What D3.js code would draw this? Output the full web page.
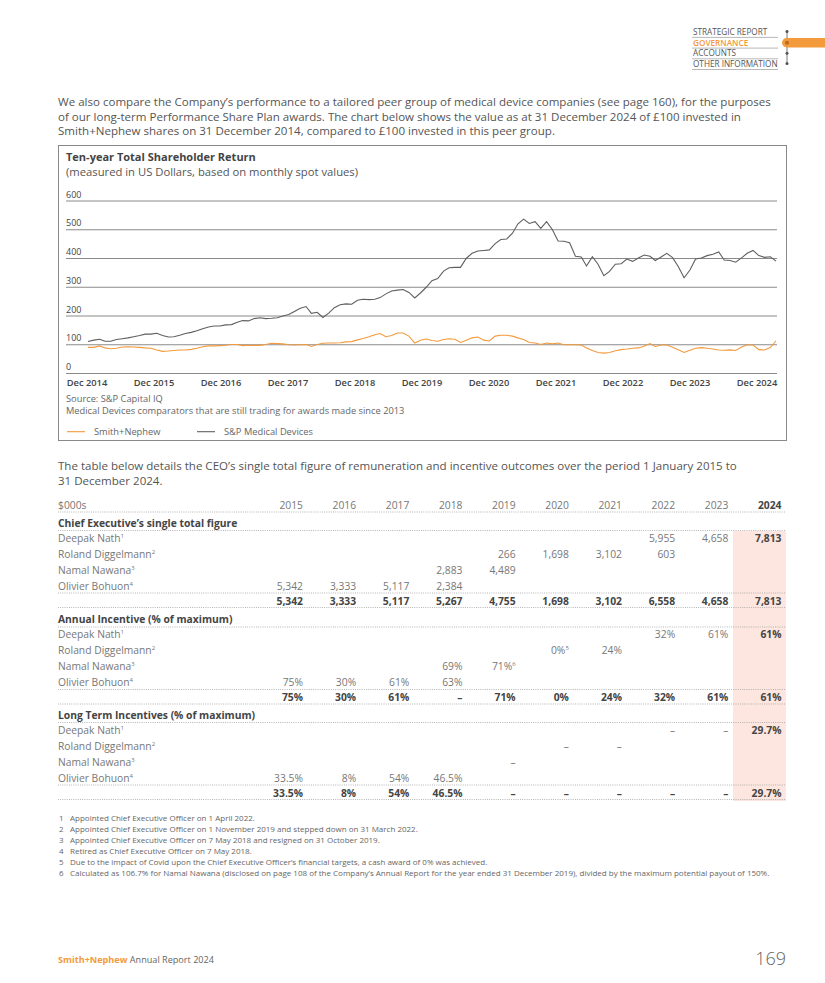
<!DOCTYPE html>
<html>
<head>
<meta charset="utf-8">
<script src="https://cdn.jsdelivr.net/npm/d3@7"></script>
<style>
  body { margin: 0; background: #fff; }
  svg text { font-family: "Open Sans", sans-serif; }
</style>
</head>
<body>
<script>
// ---- data ----
let navItems = ['STRATEGIC REPORT', 'GOVERNANCE', 'ACCOUNTS', 'OTHER INFORMATION'];

let xLabels = ['Dec 2014', 'Dec 2015', 'Dec 2016', 'Dec 2017', 'Dec 2018', 'Dec 2019',
               'Dec 2020', 'Dec 2021', 'Dec 2022', 'Dec 2023', 'Dec 2024'];
let yTicks = [0, 100, 200, 300, 400, 500, 600];

// monthly spot values, Dec 2014 .. Dec 2024
let smithNephew = [
  91, 91, 96, 89, 86, 88, 92, 93, 92, 91, 89, 88,
  82, 77, 78, 80, 82, 82, 84, 88, 93, 96, 96, 97,
  98, 101, 101, 97, 98, 98, 98, 101, 105, 104, 103, 100,
  99, 100, 101, 94, 101, 105, 106, 106, 107, 110, 111, 117,
  122, 128, 135, 139, 128, 132, 141, 141, 130, 106, 116, 120,
  115, 112, 118, 121, 119, 108, 116, 124, 127, 116, 113, 130,
  133, 133, 130, 124, 118, 108, 106, 101, 106, 103, 106, 100,
  100, 100, 99, 89, 80, 73, 71, 73, 79, 83, 85, 88,
  89, 95, 104, 94, 99, 99, 91, 83, 73, 81, 88, 90,
  88, 85, 82, 81, 82, 80, 92, 99, 99, 83, 82, 90,
  114
];
let spMedical = [
  111, 116, 119, 112, 112, 118, 121, 124, 128, 132, 137, 137,
  140, 132, 127, 128, 133, 139, 143, 149, 156, 162, 165, 165,
  169, 170, 178, 184, 183, 191, 194, 191, 192, 194, 200, 205,
  216, 227, 233, 209, 213, 195, 210, 229, 239, 242, 241, 255,
  258, 257, 258, 264, 277, 287, 290, 292, 282, 263, 280, 300,
  323, 330, 356, 368, 369, 369, 401, 418, 426, 428, 430, 452,
  466, 468, 488, 520, 537, 522, 528, 505, 528, 500, 461, 460,
  455, 408, 405, 374, 406, 380, 340, 355, 380, 382, 398, 390,
  402, 412, 408, 393, 405, 418, 403, 372, 333, 360, 398, 402,
  410, 415, 423, 395, 393, 387, 402, 418, 428, 410, 404, 406,
  391
];

let years = ['2015', '2016', '2017', '2018', '2019', '2020', '2021', '2022', '2023', '2024'];
let ceoNames = ['Deepak Nath', 'Roland Diggelmann', 'Namal Nawana', 'Olivier Bohuon'];
let ceoNotes = ['1', '2', '3', '4'];

let totalFigure = [
  [null, null, null, null, null, null, null, '5,955', '4,658', '7,813'],
  [null, null, null, null, '266', '1,698', '3,102', '603', null, null],
  [null, null, null, '2,883', '4,489', null, null, null, null, null],
  ['5,342', '3,333', '5,117', '2,384', null, null, null, null, null, null]
];
let totalFigureSum = ['5,342', '3,333', '5,117', '5,267', '4,755', '1,698', '3,102', '6,558', '4,658', '7,813'];

let annualIncentive = [
  [null, null, null, null, null, null, null, '32%', '61%', '61%'],
  [null, null, null, null, null, '0%|5', '24%', null, null, null],
  [null, null, null, '69%', '71%|6', null, null, null, null, null],
  ['75%', '30%', '61%', '63%', null, null, null, null, null, null]
];
let annualIncentiveSum = ['75%', '30%', '61%', '–', '71%', '0%', '24%', '32%', '61%', '61%'];

let longTerm = [
  [null, null, null, null, null, null, null, '–', '–', '29.7%'],
  [null, null, null, null, null, '–', '–', null, null, null],
  [null, null, null, null, '–', null, null, null, null, null],
  ['33.5%', '8%', '54%', '46.5%', null, null, null, null, null, null]
];
let longTermSum = ['33.5%', '8%', '54%', '46.5%', '–', '–', '–', '–', '–', '29.7%'];

let footnotes = [
  'Appointed Chief Executive Officer on 1 April 2022.',
  'Appointed Chief Executive Officer on 1 November 2019 and stepped down on 31 March 2022.',
  'Appointed Chief Executive Officer on 7 May 2018 and resigned on 31 October 2019.',
  'Retired as Chief Executive Officer on 7 May 2018.',
  'Due to the impact of Covid upon the Chief Executive Officer\u2019s financial targets, a cash award of 0% was achieved.',
  'Calculated as 106.7% for Namal Nawana (disclosed on page 108 of the Company\u2019s Annual Report for the year ended 31 December 2019), divided by the maximum potential payout of 150%.'
];

// ---- page ----
let orange = '#f39a3c';
let textGrey = '#666';
let body = d3.select('body');
let svg = body.append('svg')
              .attr('width', 825)
              .attr('height', 983);

// top-right navigation
let nav = svg.append('g');
navItems.forEach((t, i) => {
  let y = 35 + i * 10.7;
  nav.append('text').attr('x', 693).attr('y', y).text(t)
     .attr('font-size', 8.2).attr('fill', i == 1 ? orange : '#555')
     .attr('font-weight', i == 1 ? 600 : 400);
  nav.append('line').attr('x1', 692).attr('x2', 778).attr('y1', y + 2.4).attr('y2', y + 2.4)
     .attr('stroke', '#999').attr('stroke-width', 0.7);
});
nav.append('line').attr('x1', 787).attr('x2', 787).attr('y1', 30).attr('y2', 65)
   .attr('stroke', '#555').attr('stroke-width', 0.8);
nav.append('rect').attr('x', 782).attr('y', 38).attr('width', 60).attr('height', 9.5)
   .attr('rx', 4.7).attr('fill', orange);
[31.5, 53.3, 63.5].forEach(y => nav.append('circle').attr('cx', 787).attr('cy', y).attr('r', 1.5).attr('fill', '#555'));
nav.append('circle').attr('cx', 787).attr('cy', 42.7).attr('r', 2).attr('fill', '#b86a1e');

// paragraphs
let para = (lines, y0) => {
  lines.forEach((t, i) => svg.append('text').attr('x', 58).attr('y', y0 + i * 14.5)
    .text(t).attr('font-size', 11.55).attr('fill', '#555'));
};
para(['We also compare the Company\u2019s performance to a tailored peer group of medical device companies (see page 160), for the purposes',
      'of our long-term Performance Share Plan awards. The chart below shows the value as at 31 December 2024 of \u00a3100 invested in',
      'Smith+Nephew shares on 31 December 2014, compared to \u00a3100 invested in this peer group.'], 106);

// ---- chart ----
svg.append('rect').attr('x', 58.5).attr('y', 145.5).attr('width', 728).attr('height', 295)
   .attr('fill', 'none').attr('stroke', '#888').attr('stroke-width', 1);

svg.append('text').attr('x', 66).attr('y', 161).text('Ten-year Total Shareholder Return')
   .attr('font-size', 11).attr('font-weight', 700).attr('fill', '#444');
svg.append('text').attr('x', 66).attr('y', 176).text('(measured in US Dollars, based on monthly spot values)')
   .attr('font-size', 11.25).attr('fill', '#555');

let t0 = new Date(Date.UTC(2014, 11, 1));
let dates = smithNephew.map((d, i) => d3.utcMonth.offset(t0, i));

let x = d3.scaleUtc().domain([t0, d3.utcMonth.offset(t0, 120)]).range([88, 776]);
let y = d3.scaleLinear().domain([0, 600]).range([373.5, 201]);
let xl = d3.scalePoint().domain(xLabels).range([87, 757]);

let grid = svg.append('g');
grid.selectAll('line').data(yTicks).enter().append('line')
    .attr('x1', 66).attr('x2', 777)
    .attr('y1', d => y(d)).attr('y2', d => y(d))
    .attr('stroke', '#8a8a8a').attr('stroke-width', 1);
grid.selectAll('text').data(yTicks).enter().append('text')
    .attr('x', 66).attr('y', d => y(d) - 3.5).text(d => d)
    .attr('font-size', 9).attr('fill', '#444');

svg.append('g').selectAll('text').data(xLabels).enter().append('text')
   .attr('x', d => xl(d)).attr('y', 385.5).attr('text-anchor', 'middle').text(d => d)
   .attr('font-size', 9.3).attr('font-weight', 600).attr('fill', '#444');

let line = d3.line().x((d, i) => x(dates[i])).y(d => y(d));
svg.append('path').datum(spMedical).attr('d', line)
   .attr('fill', 'none').attr('stroke', '#5f5f5f').attr('stroke-width', 1.1);
svg.append('path').datum(smithNephew).attr('d', line)
   .attr('fill', 'none').attr('stroke', orange).attr('stroke-width', 1.1);

svg.append('text').attr('x', 66).attr('y', 401.5).text('Source: S&P Capital IQ')
   .attr('font-size', 9.3).attr('fill', textGrey);
svg.append('text').attr('x', 66).attr('y', 414).text('Medical Devices comparators that are still trading for awards made since 2013')
   .attr('font-size', 9.3).attr('fill', textGrey);

let legend = [{ name: 'Smith+Nephew', color: orange, x: 67 }, { name: 'S&P Medical Devices', color: '#5f5f5f', x: 197 }];
legend.forEach(l => {
  svg.append('line').attr('x1', l.x).attr('x2', l.x + 18).attr('y1', 431.7).attr('y2', 431.7)
     .attr('stroke', l.color).attr('stroke-width', 1.1);
  svg.append('text').attr('x', l.x + 27).attr('y', 435).text(l.name)
     .attr('font-size', 9.3).attr('fill', textGrey);
});

para(['The table below details the CEO\u2019s single total figure of remuneration and incentive outcomes over the period 1 January 2015 to',
      '31 December 2024.'], 470);

// ---- table ----
let colRight = d3.scalePoint().domain(years).range([303, 781.5]);
let tbl = svg.append('g').attr('font-size', 10.3);

tbl.append('rect').attr('x', 733).attr('y', 531).attr('width', 53).attr('height', 270)
   .attr('fill', '#fce6df');

let dotted = yy => tbl.append('line').attr('x1', 58).attr('x2', 786).attr('y1', yy).attr('y2', yy)
   .attr('stroke', '#9a9a9a').attr('stroke-width', 0.8).attr('stroke-dasharray', '0.9,1.3');

let cell = (txt, xx, yy, bold) => {
  let t = tbl.append('text').attr('x', xx).attr('y', yy).attr('text-anchor', 'end')
             .attr('fill', bold ? '#444' : '#777').attr('font-weight', bold ? 700 : 400);
  let parts = txt.split('|');
  t.append('tspan').text(parts[0]);
  if (parts[1]) t.append('tspan').text(parts[1]).attr('font-size', 6).attr('dy', -3.8);
};

// header
tbl.append('text').attr('x', 58).attr('y', 508.5).text('$000s').attr('fill', '#777');
years.forEach((yr, j) => cell(yr, colRight(yr), 508.5, yr == '2024'));
dotted(512);

let section = (title, rows, sums, yTitle) => {
  tbl.append('text').attr('x', 58).attr('y', yTitle + 3.5).text(title)
     .attr('font-weight', 700).attr('fill', '#444');
  dotted(yTitle + 7.5);
  rows.forEach((r, i) => {
    let yy = yTitle + 15 + i * 16 + 3.5;
    let nm = tbl.append('text').attr('x', 58).attr('y', yy).attr('fill', '#777');
    nm.append('tspan').text(ceoNames[i]);
    nm.append('tspan').text(ceoNotes[i]).attr('font-size', 6).attr('dy', -3.8);
    r.forEach((v, j) => { if (v) cell(v, colRight(years[j]), yy, j == 9); });
  });
  let ySum = yTitle + 15 + 4 * 16 - 1;
  dotted(ySum - 8);
  sums.forEach((v, j) => cell(v, colRight(years[j]), ySum + 3.5, true));
  dotted(ySum + 6.5);
};

section('Chief Executive\u2019s single total figure', totalFigure, totalFigureSum, 523);
section('Annual Incentive (% of maximum)', annualIncentive, annualIncentiveSum, 619.5);
section('Long Term Incentives (% of maximum)', longTerm, longTermSum, 715);

// footnotes
let fn = svg.append('g').attr('font-size', 8).attr('fill', textGrey);
footnotes.forEach((t, i) => {
  let yy = 820.5 + i * 11;
  fn.append('text').attr('x', 59).attr('y', yy).text(i + 1);
  fn.append('text').attr('x', 70).attr('y', yy).text(t);
});

// footer
let foot = svg.append('text').attr('x', 58).attr('y', 963).attr('font-size', 9.1);
foot.append('tspan').text('Smith+Nephew').attr('fill', orange).attr('font-weight', 700);
foot.append('tspan').text(' Annual Report 2024').attr('fill', textGrey);
svg.append('text').attr('x', 786).attr('y', 965).attr('text-anchor', 'end').text('169')
   .attr('font-size', 18).attr('font-weight', 300).attr('fill', '#666');
</script>
</body>
</html>
